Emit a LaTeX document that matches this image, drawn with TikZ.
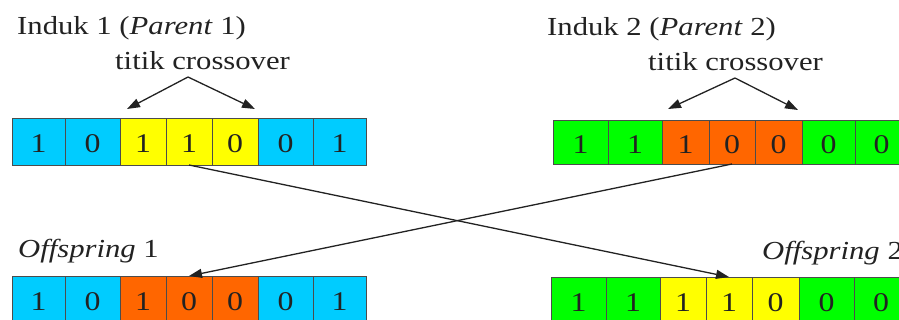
\documentclass[tikz,border=0pt]{standalone}
\usepackage{fontspec}
\setmainfont{Liberation Serif}
\usetikzlibrary{arrows.meta}
\definecolor{cb}{HTML}{00CCFF}
\definecolor{cy}{HTML}{FFFF00}
\definecolor{cg}{HTML}{00FF00}
\definecolor{co}{HTML}{FF6600}
\definecolor{ink}{HTML}{222222}
\tikzset{
  cell/.style={draw=black!70, line width=0.9pt, inner sep=0pt, outer sep=0pt, text=ink,
    font=\fontsize{27}{30}\selectfont},
  lbl/.style={anchor=base west, inner sep=0pt, text=ink, font=\fontsize{26}{30}\selectfont},
  arr/.style={draw=ink, line width=1.3pt, -{Triangle[length=13pt,width=9pt]}},
}
\newcommand{\wide}[1]{\scalebox{1.18}[1]{#1}}
% \mkrow{prefix}{top}{bottom}{x0/x1/colour/digit,...}
\newcommand{\mkrow}[4]{%
  \foreach \xa/\xb/\cc/\dd [count=\i] in {#4}{%
    \node[cell, fill=\cc, minimum width={\xb-\xa}, minimum height={#3-#2}, anchor=north west]
      (#1c\i) at (\xa,#2) {};
    \node[text=ink, font=\fontsize{27}{30}\selectfont, inner sep=0pt] at ([yshift=-2.5pt]#1c\i.center) {\wide{\dd}};
  }%
}
\begin{document}
\begin{tikzpicture}[x=1pt,y=-1pt]
\useasboundingbox (0,0) rectangle (899,320);
\clip (0,0) rectangle (899,320);
% rows
\mkrow{pa}{118}{165}{12/65/cb/1,65/120/cb/0,120/166/cy/1,166/212/cy/1,212/258/cy/0,258/313/cb/0,313/366/cb/1}
\mkrow{pb}{120}{164}{553/608/cg/1,608/662/cg/1,662/709/co/1,709/755/co/0,755/802/co/0,802/855/cg/0,855/908/cg/0}
\mkrow{oa}{276}{323}{12/65/cb/1,65/120/cb/0,120/166/co/1,166/212/co/0,212/258/co/0,258/313/cb/0,313/366/cb/1}
\mkrow{ob}{277}{324}{551/606/cg/1,606/660/cg/1,660/706/cy/1,706/752/cy/1,752/799/cy/0,799/854/cg/0,854/908/cg/0}
% labels
\node[lbl] (ta) at (17,35) {\wide{Induk 1 (\textit{Parent} 1)}};
\node[lbl] (ca) at (115,70) {\wide{titik crossover}};
\node[lbl] (tb) at (547,36) {\wide{Induk 2 (\textit{Parent} 2)}};
\node[lbl] (cbl) at (648,71) {\wide{titik crossover}};
\node[lbl] (toa) at (18,258) {\wide{\textit{Offspring} 1}};
\node[lbl] (tob) at (762,259) {\wide{\textit{Offspring} 2}};
% crossover point arrows
\coordinate (apa) at (188,77);
\coordinate (apb) at (735,78);
\coordinate (xa1) at (127,109);
\coordinate (xa2) at (255,109);
\coordinate (xb1) at (668,109);
\coordinate (xb2) at (798,110);
\draw[arr] (apa) -- (xa1);
\draw[arr] (apa) -- (xa2);
\draw[arr] (apb) -- (xb1);
\draw[arr] (apb) -- (xb2);
% crossing lines
\draw[arr] (pac4.south) -- (obc4.north);
\draw[arr] (pbc4.south) -- (oac4.north);
\end{tikzpicture}
\end{document}
